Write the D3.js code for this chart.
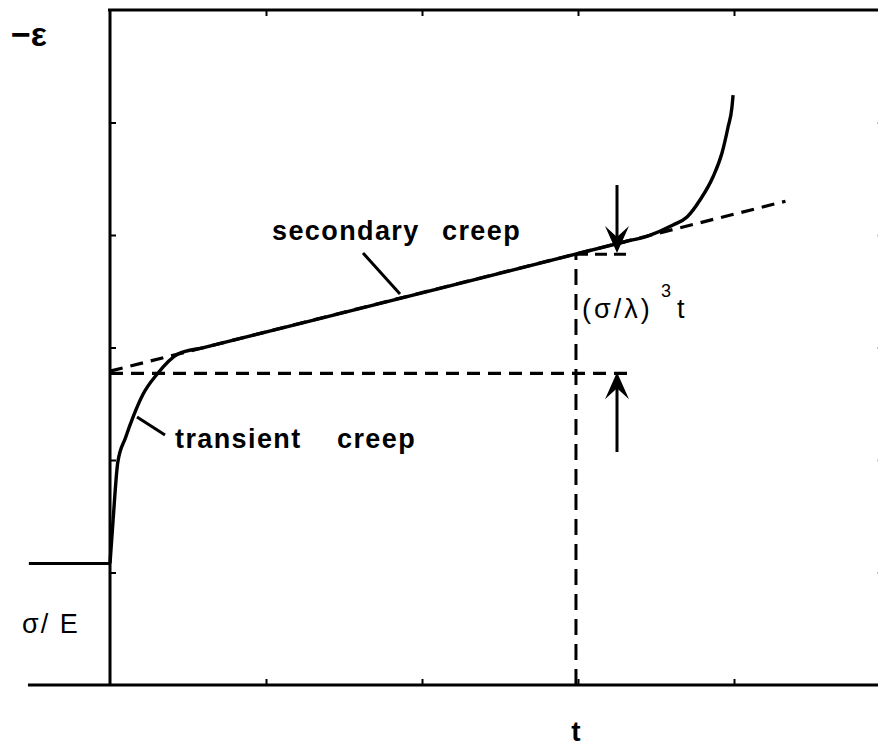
<!DOCTYPE html>
<html>
<head>
<meta charset="utf-8">
<script src="https://cdn.jsdelivr.net/npm/d3@7"></script>
<style>
  html, body { margin: 0; padding: 0; background: #fff; }
  svg { display: block; }
  text { fill: #000; font-family: "Liberation Sans", Arial, Helvetica, sans-serif; }
</style>
</head>
<body>
<svg id="chart" width="878" height="746"></svg>
<script>
// Creep curve: strain (-ε) against time t
const tTicks = [1, 2, 3, 4];
const strainTicks = [1, 2, 3, 4, 5];

// instantaneous elastic strain σ/E
const elasticStrain = 1.08;

// full creep curve: transient, secondary (steady) and accelerating stages
const creepT      = [0, 0.02, 0.05, 0.10, 0.15, 0.21, 0.30, 0.436, 0.60, 3.30, 3.45, 3.609, 3.699, 3.782, 3.865, 3.923, 3.962, 3.987, 3.994];
const creepStrain = [1.08, 1.47, 1.98, 2.20, 2.39, 2.58, 2.76, 2.942, 2.999, 3.940, 3.993, 4.089, 4.160, 4.311, 4.516, 4.729, 4.960, 5.138, 5.244];

// steady-state line extended back to t = 0 and forward
const steadyT      = [0, 4.33];
const steadyStrain = [2.79, 4.30];

// construction lines for the (σ/λ)^3 t increment
const offsetStrain = 2.77;   // intercept level
const offsetEndT   = 3.35;
const markT        = 2.987;  // chosen time t
const markStrain   = 3.83;   // steady line at t
const markEndT     = 3.33;
const arrowT       = 3.25;
const arrowDownFrom = 4.444;
const arrowUpFrom   = 2.071;

const svg = d3.select("#chart");

const x = d3.scaleLinear().domain([0, 5]).range([110, 890]);
const y = d3.scaleLinear().domain([0, 6]).range([685, 10]);

const ink = "#000";

// frame lines
svg.append("line")
  .attr("x1", x(-0.526)).attr("x2", 878)
  .attr("y1", y(0)).attr("y2", y(0))
  .attr("stroke", ink).attr("stroke-width", 3);
svg.append("line")
  .attr("x1", x(-0.013)).attr("x2", 878)
  .attr("y1", y(6)).attr("y2", y(6))
  .attr("stroke", ink).attr("stroke-width", 3);
svg.append("line")
  .attr("x1", x(0)).attr("x2", x(0))
  .attr("y1", y(6)).attr("y2", y(0))
  .attr("stroke", ink).attr("stroke-width", 3);

// inward ticks on all four sides (no labels)
function styleAxis(g) {
  g.select(".domain").remove();
  g.selectAll(".tick text").remove();
  g.selectAll(".tick line").attr("stroke", ink).attr("stroke-width", 2);
}
svg.append("g").attr("transform", `translate(0,${y(0)})`)
  .call(d3.axisBottom(x).tickValues(tTicks).tickSizeInner(-6).tickSizeOuter(0))
  .call(styleAxis);
svg.append("g").attr("transform", `translate(0,${y(6)})`)
  .call(d3.axisTop(x).tickValues(tTicks).tickSizeInner(-6).tickSizeOuter(0))
  .call(styleAxis);
svg.append("g").attr("transform", `translate(${x(0)},0)`)
  .call(d3.axisLeft(y).tickValues(strainTicks).tickSizeInner(-6).tickSizeOuter(0))
  .call(styleAxis);
svg.append("g").attr("transform", `translate(${x(4.96)},0)`)
  .call(d3.axisRight(y).tickValues(strainTicks).tickSizeInner(-6).tickSizeOuter(0))
  .call(styleAxis);

// elastic step marker σ/E
svg.append("line")
  .attr("x1", x(-0.52)).attr("x2", x(0))
  .attr("y1", y(elasticStrain)).attr("y2", y(elasticStrain))
  .attr("stroke", ink).attr("stroke-width", 3);

const dash = "13,8";

// dashed construction lines
const steadyPts = steadyT.map((t, i) => [t, steadyStrain[i]]);
svg.append("path")
  .attr("d", d3.line().x(d => x(d[0])).y(d => y(d[1]))(steadyPts))
  .attr("fill", "none").attr("stroke", ink).attr("stroke-width", 3.2)
  .attr("stroke-dasharray", dash);

svg.append("line")
  .attr("x1", x(0)).attr("x2", x(offsetEndT))
  .attr("y1", y(offsetStrain)).attr("y2", y(offsetStrain))
  .attr("stroke", ink).attr("stroke-width", 3.2).attr("stroke-dasharray", dash);

svg.append("line")
  .attr("x1", x(markT)).attr("x2", x(markT))
  .attr("y1", y(0)).attr("y2", y(markStrain))
  .attr("stroke", ink).attr("stroke-width", 3).attr("stroke-dasharray", "16,9");

svg.append("line")
  .attr("x1", x(markT)).attr("x2", x(markEndT))
  .attr("y1", y(markStrain)).attr("y2", y(markStrain))
  .attr("stroke", ink).attr("stroke-width", 3).attr("stroke-dasharray", "12,7");

// creep curve
const creepPts = creepT.map((t, i) => [t, creepStrain[i]]);
svg.append("path")
  .attr("d", d3.line().x(d => x(d[0])).y(d => y(d[1])).curve(d3.curveMonotoneX)(creepPts))
  .attr("fill", "none").attr("stroke", ink).attr("stroke-width", 3.4)
  .attr("stroke-linejoin", "round");

// arrows marking the (σ/λ)^3 t increment
function arrow(fromStrain, toStrain) {
  const ax = x(arrowT);
  const y0 = y(fromStrain), y1 = y(toStrain);
  const dir = y1 > y0 ? 1 : -1;
  svg.append("line")
    .attr("x1", ax).attr("x2", ax)
    .attr("y1", y0).attr("y2", y1 - dir * 14)
    .attr("stroke", ink).attr("stroke-width", 3);
  const L = 27, W = 12, N = 16;
  const p = d3.path();
  p.moveTo(ax, y1);
  p.lineTo(ax - W, y1 - dir * L);
  p.lineTo(ax, y1 - dir * N);
  p.lineTo(ax + W, y1 - dir * L);
  p.closePath();
  svg.append("path").attr("d", p.toString()).attr("fill", ink);
}
arrow(arrowDownFrom, markStrain + 0.01);
arrow(arrowUpFrom, offsetStrain + 0.01);

// leader lines
svg.append("line")
  .attr("x1", 363).attr("y1", 253).attr("x2", 400).attr("y2", 294)
  .attr("stroke", ink).attr("stroke-width", 3);
svg.append("line")
  .attr("x1", 137).attr("y1", 417).attr("x2", 165).attr("y2", 435)
  .attr("stroke", ink).attr("stroke-width", 3);

// labels
const bold = { "font-weight": "bold", "font-size": "27px", "letter-spacing": "1.4px" };
function label(words, xs, baseline, attrs) {
  const t = svg.append("text").attr("y", baseline);
  Object.entries(attrs).forEach(([k, v]) => t.attr(k, v));
  words.forEach((w, i) => t.append("tspan").attr("x", xs[i]).text(w));
  return t;
}
label(["secondary", "creep"], [272, 442], 240, bold);
label(["transient", "creep"], [175, 337], 448, bold);

const incr = svg.append("text").attr("x", 582).attr("y", 318)
  .attr("font-size", "27px").attr("letter-spacing", "3px");
incr.append("tspan").text("(σ/λ)");
incr.append("tspan").attr("x", 661).attr("y", 297).attr("font-size", "18px").attr("letter-spacing", "0").text("3");
incr.append("tspan").attr("x", 677).attr("y", 318).attr("letter-spacing", "0").text("t");

svg.append("text").attr("x", 11).attr("y", 46)
  .attr("font-size", "34px").attr("font-weight", "bold").text("−ε");

svg.append("text").attr("x", 22).attr("y", 633)
  .attr("font-size", "27px").attr("letter-spacing", "2px")
  .attr("xml:space", "preserve").style("white-space", "pre").text("σ/ E");

svg.append("text").attr("x", x(markT)).attr("y", 741)
  .attr("text-anchor", "middle").attr("font-weight", "bold")
  .attr("font-size", "28px").text("t");
</script>
</body>
</html>
